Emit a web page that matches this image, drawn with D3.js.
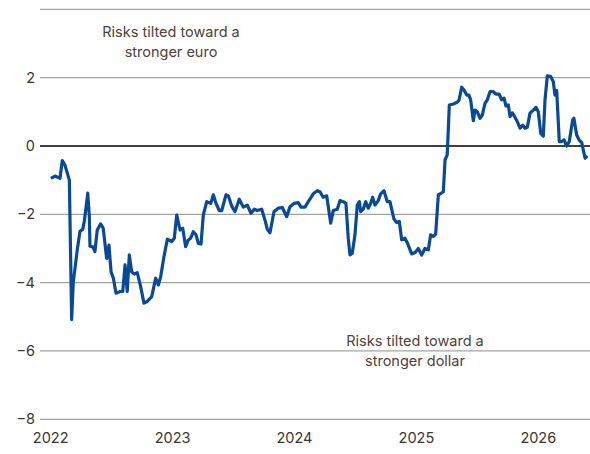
<!DOCTYPE html>
<html>
<head>
<meta charset="utf-8">
<script src="https://cdn.jsdelivr.net/npm/d3@7"></script>
<style>
  body { margin: 0; background: #fff; }
  text { font-family: Inter, "Noto Sans", sans-serif; }
</style>
</head>
<body>
<script>
// decimal years
var dates = [2022.002, 2022.035, 2022.062, 2022.076, 2022.095, 2022.117, 2022.153, 2022.172, 2022.185, 2022.218,
  2022.240, 2022.263, 2022.276, 2022.304, 2022.317, 2022.322, 2022.345, 2022.363, 2022.382, 2022.410,
  2022.431, 2022.459, 2022.478, 2022.495, 2022.514, 2022.536, 2022.569, 2022.591, 2022.610, 2022.628,
  2022.645, 2022.664, 2022.686, 2022.710, 2022.738, 2022.765, 2022.788, 2022.829, 2022.861, 2022.883,
  2022.902, 2022.929, 2022.957, 2022.993, 2023.014, 2023.034, 2023.061, 2023.083, 2023.107, 2023.129,
  2023.148, 2023.170, 2023.192, 2023.211, 2023.233, 2023.252, 2023.280, 2023.313, 2023.334, 2023.356,
  2023.383, 2023.403, 2023.438, 2023.457, 2023.485, 2023.512, 2023.547, 2023.580, 2023.613, 2023.643,
  2023.670, 2023.695, 2023.731, 2023.758, 2023.777, 2023.799, 2023.832, 2023.867, 2023.900, 2023.936,
  2023.963, 2023.996, 2024.031, 2024.053, 2024.086, 2024.113, 2024.154, 2024.187, 2024.209, 2024.235,
  2024.264, 2024.297, 2024.318, 2024.351, 2024.373, 2024.400, 2024.422, 2024.441, 2024.455, 2024.474,
  2024.496, 2024.515, 2024.532, 2024.543, 2024.564, 2024.584, 2024.605, 2024.625, 2024.641, 2024.660,
  2024.687, 2024.707, 2024.734, 2024.761, 2024.783, 2024.816, 2024.838, 2024.860, 2024.879, 2024.906,
  2024.925, 2024.961, 2024.989, 2025.016, 2025.043, 2025.070, 2025.098, 2025.117, 2025.139, 2025.158,
  2025.180, 2025.208, 2025.221, 2025.235, 2025.253, 2025.270, 2025.303, 2025.330, 2025.349, 2025.372,
  2025.390, 2025.413, 2025.431, 2025.445, 2025.467, 2025.481, 2025.500, 2025.522, 2025.541, 2025.563,
  2025.582, 2025.604, 2025.631, 2025.653, 2025.678, 2025.700, 2025.719, 2025.735, 2025.754, 2025.768,
  2025.787, 2025.809, 2025.828, 2025.850, 2025.872, 2025.891, 2025.910, 2025.932, 2025.959, 2025.981,
  2026.000, 2026.020, 2026.041, 2026.055, 2026.074, 2026.102, 2026.123, 2026.137, 2026.151, 2026.172,
  2026.192, 2026.211, 2026.233, 2026.254, 2026.282, 2026.292, 2026.315, 2026.334, 2026.356, 2026.384,
  2026.402];

var values = [-0.95, -0.88, -0.92, -0.95, -0.43, -0.56, -1.00, -5.08, -4.00, -3.04,
  -2.50, -2.44, -2.20, -1.38, -2.07, -2.93, -2.95, -3.09, -2.46, -2.28,
  -2.41, -3.29, -2.90, -3.68, -3.87, -4.31, -4.26, -4.26, -3.48, -4.26,
  -3.19, -3.68, -3.75, -3.71, -4.12, -4.60, -4.56, -4.41, -3.87, -4.07,
  -3.83, -3.24, -2.73, -2.80, -2.70, -2.02, -2.46, -2.41, -2.95, -2.75,
  -2.70, -2.51, -2.60, -2.85, -2.87, -2.02, -1.63, -1.68, -1.43, -1.68,
  -1.89, -1.89, -1.43, -1.46, -1.76, -1.92, -1.56, -1.79, -1.73, -1.97,
  -1.85, -1.89, -1.85, -2.17, -2.44, -2.54, -1.92, -1.82, -1.80, -2.07,
  -1.78, -1.68, -1.66, -1.79, -1.79, -1.63, -1.40, -1.31, -1.34, -1.50,
  -1.46, -2.26, -1.89, -1.85, -1.60, -1.63, -1.68, -2.70, -3.19, -3.14,
  -2.60, -1.73, -1.63, -1.92, -1.85, -1.63, -1.82, -1.68, -1.50, -1.73,
  -1.60, -1.40, -1.31, -1.63, -1.63, -2.14, -2.24, -2.21, -2.75, -2.70,
  -2.83, -3.16, -3.12, -3.00, -3.19, -3.00, -3.04, -2.60, -2.65, -2.58,
  -1.43, -1.37, -1.34, -0.41, -0.26, 1.20, 1.23, 1.27, 1.33, 1.72,
  1.64, 1.49, 1.49, 1.35, 0.74, 1.05, 1.00, 0.81, 0.91, 1.25,
  1.35, 1.59, 1.59, 1.52, 1.52, 1.35, 1.40, 1.17, 1.20, 0.86,
  0.97, 0.84, 0.71, 0.52, 0.61, 0.52, 0.55, 0.96, 1.05, 1.13,
  1.00, 0.37, 0.29, 1.35, 2.05, 2.03, 1.88, 1.49, 1.62, 0.13,
  0.13, 0.18, 0.00, 0.13, 0.76, 0.81, 0.32, 0.18, 0.10, -0.36,
  -0.29];

var yearTicks = [2022, 2023, 2024, 2025, 2026];
var valueTicks = [-8, -6, -4, -2, 0, 2, 4];
var topNote = ["Risks tilted toward a", "stronger euro"];
var bottomNote = ["Risks tilted toward a", "stronger dollar"];

window.onload = function()
{
  var width = 590, height = 454;
  var left = 40, right = 590;

  var svg = d3.select("body")
    .append("svg")
    .attr("width", width)
    .attr("height", height);

  var x = d3.scaleLinear().domain([2022, 2026]).range([50.7, 538.3]);
  var y = d3.scaleLinear().domain([-8, 4]).range([419.3, 9.3]);

  var data = dates.map(function(d, i) { return {t: d, v: values[i]}; });

  // horizontal grid
  svg.selectAll("line.grid")
    .data(valueTicks)
    .enter()
    .append("line")
    .attr("class", "grid")
    .attr("x1", left)
    .attr("x2", right)
    .attr("y1", function(d) { return y(d); })
    .attr("y2", function(d) { return y(d); })
    .attr("stroke", function(d) { return d == 0 ? "#000" : "#a3a3a3"; })
    .attr("stroke-width", function(d) { return d == 0 ? 1.4 : 1.2; });

  // y labels (top line has none)
  svg.selectAll("text.ylab")
    .data(valueTicks.filter(function(d) { return d < 4; }))
    .enter()
    .append("text")
    .attr("class", "ylab")
    .attr("x", 35)
    .attr("y", function(d) { return y(d); })
    .attr("dy", "0.35em")
    .attr("text-anchor", "end")
    .attr("font-size", 14.5)
    .attr("fill", "#3b3631")
    .text(function(d) { return d < 0 ? "\u2212" + Math.abs(d) : d; });

  // x labels
  svg.selectAll("text.xlab")
    .data(yearTicks)
    .enter()
    .append("text")
    .attr("class", "xlab")
    .attr("x", function(d) { return x(d); })
    .attr("y", 443)
    .attr("text-anchor", "middle")
    .attr("font-size", 14.5)
    .attr("fill", "#3b3631")
    .text(function(d) { return d; });

  var line = d3.line()
    .x(function(d) { return x(d.t); })
    .y(function(d) { return y(d.v); });

  svg.append("path")
    .datum(data)
    .attr("d", line)
    .attr("fill", "none")
    .attr("stroke", "#0a4a94")
    .attr("stroke-width", 3.2)
    .attr("stroke-linejoin", "round");

  function note(lines, cx, y0)
  {
    svg.append("g").selectAll("text")
      .data(lines)
      .enter()
      .append("text")
      .attr("x", cx)
      .attr("y", function(d, i) { return y0 + i * 19.5; })
      .attr("text-anchor", "middle")
      .attr("font-size", 14.5)
      .attr("fill", "#4e433b")
      .text(function(d) { return d; });
  }
  note(topNote, 171, 37.3);
  note(bottomNote, 415, 346.3);
}
</script>
</body>
</html>
